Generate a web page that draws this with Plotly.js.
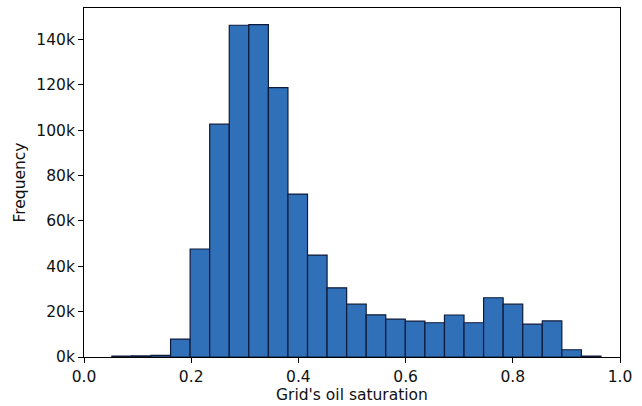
<!DOCTYPE html>
<html>
<head>
<meta charset="utf-8">
<script src="https://cdn.plot.ly/plotly-3.0.1.min.js"></script>
<style>html,body{margin:0;padding:0;background:#fff;}#chart{width:642px;height:406px;}</style>
</head>
<body>
<div id="chart"></div>
<script>
// Bin left edges (grid's oil saturation)
const binLeftEdges = [0.052, 0.0885, 0.125, 0.1615, 0.198, 0.2345, 0.271, 0.3075, 0.344, 0.3805,
  0.417, 0.4535, 0.490, 0.5265, 0.563, 0.5995, 0.636, 0.6725, 0.709, 0.7455,
  0.782, 0.8185, 0.855, 0.8915, 0.928];
const binWidth = 0.0365;
// Frequencies
const frequencies = [400, 500, 700, 7900, 47600, 102600, 146200, 146500, 118700, 71800,
  44900, 30500, 23300, 18600, 16700, 15800, 15100, 18500, 15100, 26100,
  23300, 14500, 15900, 3200, 400];
const yTickVals = [0, 20000, 40000, 60000, 80000, 100000, 120000, 140000];
const yTickText = ['0k', '20k', '40k', '60k', '80k', '100k', '120k', '140k'];
const xTickVals = [0, 0.2, 0.4, 0.6, 0.8, 1.0];
const xTickText = ['0.0', '0.2', '0.4', '0.6', '0.8', '1.0'];

const trace = {
  type: 'bar',
  x: binLeftEdges,
  y: frequencies,
  width: binLeftEdges.map(() => binWidth),
  offset: 0,
  marker: {color: '#3070b8', line: {color: '#0e1a3a', width: 1.2}},
  hoverinfo: 'x+y'
};

const fontSpec = {family: 'DejaVu Sans', size: 15.5, color: '#111'};

const axisCommon = {
  showline: true, linecolor: '#000', linewidth: 1, mirror: true,
  ticks: 'outside', ticklen: 5, tickwidth: 1, tickcolor: '#000',
  showgrid: false, zeroline: false,
  tickfont: fontSpec
};

const layout = {
  width: 642, height: 406,
  margin: {l: 84, r: 22, t: 8, b: 49},
  paper_bgcolor: '#fff', plot_bgcolor: '#fff',
  showlegend: false,
  bargap: 0,
  font: fontSpec,
  xaxis: Object.assign({}, axisCommon, {
    range: [0, 1], tickvals: xTickVals, ticktext: xTickText,
    title: {text: "Grid's oil saturation", font: fontSpec, standoff: 3}
  }),
  yaxis: Object.assign({}, axisCommon, {
    range: [0, 153800], tickvals: yTickVals, ticktext: yTickText,
    title: {text: 'Frequency', font: fontSpec, standoff: 6}
  })
};

Plotly.newPlot('chart', [trace], layout, {displayModeBar: false, staticPlot: true});
</script>
</body>
</html>
